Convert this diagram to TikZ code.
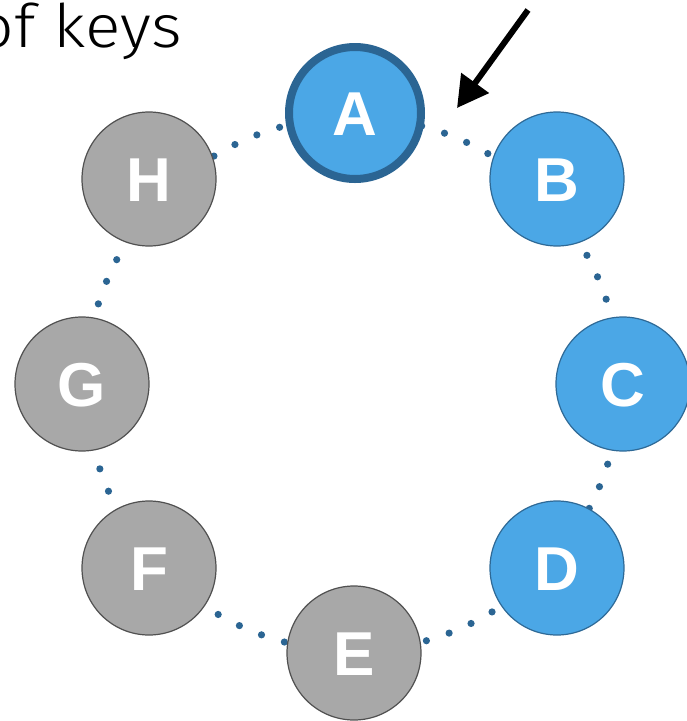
\documentclass[tikz,border=0pt]{standalone}
\usepackage{fontspec}
\setmainfont{Liberation Sans}
\newfontfamily\thinfont{Fira Sans Light}
\usetikzlibrary{arrows.meta}
\definecolor{keyblue}{RGB}{75,167,230}
\definecolor{keyblueedge}{RGB}{46,105,150}
\definecolor{keyaedge}{RGB}{43,101,147}
\definecolor{keygray}{RGB}{168,168,168}
\definecolor{keygrayedge}{RGB}{80,80,80}
\definecolor{dotblue}{RGB}{43,101,147}
\begin{document}
\begin{tikzpicture}[x=1pt,y=-1pt,
  keynode/.style={circle, minimum size=134pt, inner sep=0pt, line width=1.2pt},
  bluekey/.style={keynode, fill=keyblue, draw=keyblueedge},
  akey/.style={circle, minimum size=132pt, inner sep=0pt, line width=8pt, fill=keyblue, draw=keyaedge},
  graykey/.style={keynode, fill=keygray, draw=keygrayedge},
  letter/.style={font=\fontsize{62}{62}\selectfont\bfseries, text=white, text height=44pt, text depth=0pt, inner sep=0pt},
  ringdot/.style={fill=dotblue}
]
\path[use as bounding box] (0,0) rectangle (687,721);
% dotted ring
\foreach \i in {0,...,69}
  \fill[ringdot] ({353+267*cos(104.9+\i*5.142857)},{384+267*sin(104.9+\i*5.142857)}) circle (3.6pt);
% keys
\foreach \n/\x/\y/\s in {A/355/113/akey, B/557/179/bluekey, C/623/384/bluekey, D/557/568/bluekey,
                         E/354/653/graykey, F/149/568/graykey, G/82/384/graykey, H/149/179/graykey}{
  \node[\s] (\n) at (\x,\y) {};
  \node[letter] (\n-l) at (\x,\y) {\n};
}
% title fragment
\node[anchor=base east, font=\thinfont\fontsize{60}{60}\selectfont, inner sep=0pt, xscale=1.1, transform shape] (title) at (182,47) {of keys};
% arrow
\coordinate (arrowstart) at (528,10);
\coordinate (arrowtip) at (457,108);
\draw[line width=6pt, -{Triangle[length=31pt,width=33pt]}] (arrowstart) -- (arrowtip);
\end{tikzpicture}
\end{document}
